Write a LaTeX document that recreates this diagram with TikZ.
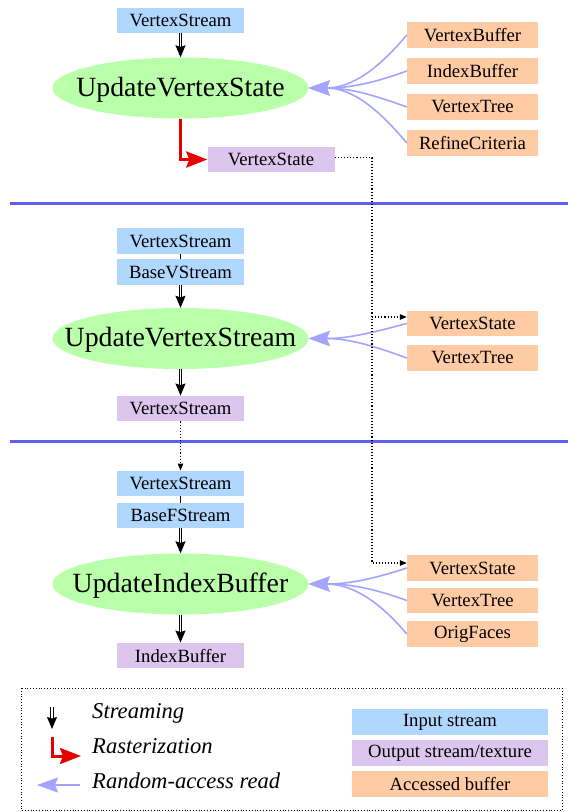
\documentclass[tikz,border=0pt]{standalone}
\usepackage{fontspec}
\setmainfont{Liberation Serif}
\usetikzlibrary{shapes.geometric,arrows.meta,calc}
\definecolor{inblue}{HTML}{B0D8FF}
\definecolor{outpurple}{HTML}{DCC6EE}
\definecolor{accorange}{HTML}{FFCBA4}
\definecolor{procgreen}{HTML}{BAFFAA}
\definecolor{randcol}{HTML}{A4A4FF}
\definecolor{sepcol}{HTML}{5E5EF0}
\definecolor{rastred}{HTML}{E80000}
\tikzset{
  boxbase/.style={rectangle, inner sep=0pt, minimum height=25.5pt, font=\fontsize{18.7}{19}\selectfont},
  inbox/.style={boxbase, fill=inblue, minimum width=127pt},
  outbox/.style={boxbase, fill=outpurple, minimum width=127pt},
  accbox/.style={boxbase, fill=accorange, minimum width=131pt},
  legbox/.style={boxbase, minimum width=196pt, minimum height=26pt},
  proc/.style={ellipse, fill=procgreen, inner sep=0pt, minimum width=256pt, minimum height=61pt},
  procfont/.style={inner sep=0pt, yshift=-1.5pt, font=\fontsize{27.8}{28}\selectfont},
  stream/.style={draw=black, line width=1pt, double=white, double distance=1.4pt, -{Stealth[length=12pt,width=10pt,inset=1.5pt]}},
  joinline/.style={draw=black, line width=0.9pt},
  raster/.style={draw=rastred, line width=3pt, -{Stealth[length=21pt,width=16pt,inset=3pt]}},
  rand/.style={draw=randcol, line width=1.6pt, -{Stealth[length=21pt,width=15pt,inset=3pt]}},
  dotarr/.style={draw=black, line width=1.1pt, dotted, -{Triangle[length=7pt,width=5.5pt]}},
  sepline/.style={draw=sepcol, line width=3pt},
  legtext/.style={inner sep=0pt, font=\fontsize{22.6}{24}\selectfont\itshape},
}
\begin{document}
\begin{tikzpicture}[x=1pt,y=1pt]
\useasboundingbox (0,0) rectangle (568,-812);

% separators
\draw[sepline] (10,-203) -- (568,-203);
\draw[sepline] (10,-441) -- (568,-441);

% ---- section 1
\node[inbox] (vs1) at (180.5,-20.5) {VertexStream};
\node[proc, label={[procfont]center:UpdateVertexState}] (p1) at (180.5,-88) {};
\node[outbox] (st1) at (271,-159.5) {VertexState};
\node[accbox] (vb1) at (472.5,-35) {VertexBuffer};
\node[accbox] (ib1) at (472.5,-71) {IndexBuffer};
\node[accbox] (vt1) at (472.5,-107) {VertexTree};
\node[accbox] (rc1) at (472.5,-143) {RefineCriteria};

\draw[stream] (vs1.south) -- (p1.north);
\draw[raster] (p1.south) |- (st1.west);
\draw[rand] (vb1.west) to[out=230,in=0] (p1.east);
\draw[rand] (ib1.west) to[out=200,in=0] (p1.east);
\draw[rand] (vt1.west) to[out=160,in=0] (p1.east);
\draw[rand] (rc1.west) to[out=130,in=0] (p1.east);

% ---- section 2
\node[inbox] (vs2) at (180.5,-241) {VertexStream};
\node[inbox] (bv2) at (180.5,-272) {BaseVStream};
\node[proc, label={[procfont]center:UpdateVertexStream}] (p2) at (180.5,-338.5) {};
\node[outbox] (vo2) at (180.5,-408.5) {VertexStream};
\node[accbox] (st2) at (472.5,-323.5) {VertexState};
\node[accbox] (vt2) at (472.5,-358) {VertexTree};

\draw[joinline] (vs2.south) -- (bv2.north);
\draw[stream] (bv2.south) -- (p2.north);
\draw[stream] (p2.south) -- (vo2.north);
\draw[rand] (st2.west) to[out=195,in=0] (p2.east);
\draw[rand] (vt2.west) to[out=160,in=0] (p2.east);

% ---- section 3
\node[inbox] (vs3) at (180.5,-483.5) {VertexStream};
\node[inbox] (bf3) at (180.5,-515.5) {BaseFStream};
\node[proc, label={[procfont]center:UpdateIndexBuffer}] (p3) at (180.5,-584) {};
\node[outbox] (ib3) at (180.5,-655.5) {IndexBuffer};
\node[accbox] (st3) at (472.5,-568) {VertexState};
\node[accbox] (vt3) at (472.5,-600.5) {VertexTree};
\node[accbox] (of3) at (472.5,-634) {OrigFaces};

\draw[joinline] (vs3.south) -- (bf3.north);
\draw[stream] (bf3.south) -- (p3.north);
\draw[stream] (p3.south) -- (ib3.north);
\draw[rand] (st3.west) to[out=198,in=0] (p3.east);
\draw[rand] (vt3.west) to[out=160,in=0] (p3.east);
\draw[rand] (of3.west) to[out=130,in=0] (p3.east);

% dotted dependencies
\coordinate (xj) at (372,0);
\draw[dotarr] ([yshift=2pt]st1.east) -| ($(xj |- st3.west)+(0,5)$) -- ([yshift=5pt]st3.west);
\draw[dotarr] ([yshift=6.5pt]st2.west -| xj) -- ([yshift=6.5pt]st2.west);
\draw[dotarr] (vo2.south) -- (vs3.north);

% ---- legend
\draw[black, line width=0.8pt, dotted] (21,-688) rectangle (562,-810);
\node[legtext, anchor=base west] (lt1) at (92,-718) {Streaming};
\node[legtext, anchor=base west] (lt2) at (92,-753) {Rasterization};
\node[legtext, anchor=base west] (lt3) at (92,-788) {Random-access read};
\coordinate (sa) at (52,-707);
\coordinate (sb) at (52,-729);
\draw[stream] (sa) -- (sb);
\coordinate (ra) at (52,-737);
\coordinate (rb) at (81,-756);
\draw[raster] (ra) |- (rb);
\coordinate (qa) at (80,-785);
\coordinate (qb) at (37,-785);
\draw[rand] (qa) -- (qb);
\node[legbox, fill=inblue] (l1) at (450,-722) {Input stream};
\node[legbox, fill=outpurple] (l2) at (450,-753) {Output stream/texture};
\node[legbox, fill=accorange] (l3) at (450,-784) {Accessed buffer};
\end{tikzpicture}
\end{document}
